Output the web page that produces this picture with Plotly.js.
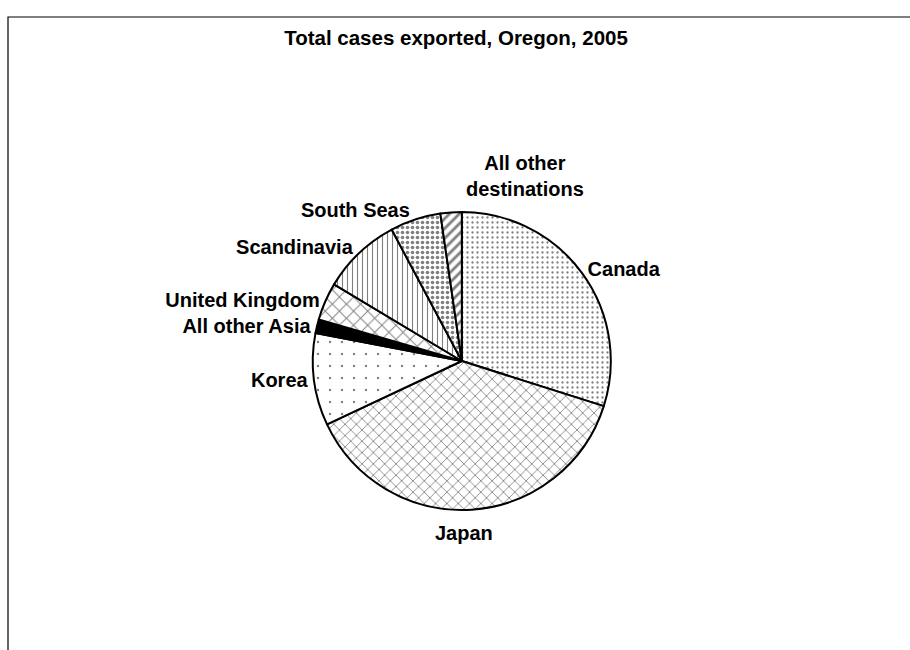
<!DOCTYPE html>
<html>
<head>
<meta charset="utf-8">
<script src="https://cdn.plot.ly/plotly-3.0.1.min.js"></script>
<style>html,body{margin:0;padding:0;background:#fff;}#chart{width:910px;height:650px;}</style>
</head>
<body>
<div id="chart"></div>
<script>
// Data (percent share of total cases)
const destinations = ["Canada", "Japan", "Korea", "All other Asia", "United Kingdom", "Scandinavia", "South Seas", "All other destinations"];
const shares = [29.9, 38.1, 10.0, 1.5, 4.1, 8.6, 5.5, 2.3];
// Slice texts drawn by the pie itself; two labels are set as free notes instead
const sliceTexts = ["Canada", "", "Korea", "All other Asia", "United Kingdom", "Scandinavia", "South Seas", ""];
const noteTexts = ["Japan", "All other<br>destinations"];

const patternShapes = [".", "x", ".", "", "x", "|", ".", "/"];
const patternSizes = [5, 8, 12, 8, 10, 5, 5, 7];
const patternSolidity = [0.17, 0.2, 0.03, 0.3, 0.18, 0.22, 0.4, 0.4];
const sliceColors = ["#ffffff", "#ffffff", "#ffffff", "#000000", "#ffffff", "#ffffff", "#ffffff", "#ffffff"];

const labelFont = {family: "Liberation Sans, Arial, sans-serif", size: 20, color: "#000", weight: "bold"};

const trace = {
  type: "pie",
  labels: destinations,
  values: shares,
  sort: false,
  direction: "clockwise",
  rotation: 0,
  textposition: "outside",
  text: sliceTexts,
  texttemplate: "%{text}",
  hoverinfo: "label+percent",
  outsidetextfont: labelFont,
  marker: {
    colors: sliceColors,
    line: {color: "#000", width: 2},
    pattern: {
      shape: patternShapes,
      size: patternSizes,
      solidity: patternSolidity,
      fgcolor: "#000",
      bgcolor: sliceColors,
      fillmode: "overlay"
    }
  },
  domain: {x: [0.3435, 0.6715], y: [0.2154, 0.6738]},
  showlegend: false
};

const layout = {
  width: 910,
  height: 650,
  margin: {l: 0, r: 0, t: 0, b: 0},
  paper_bgcolor: "#fff",
  plot_bgcolor: "#fff",
  showlegend: false,
  title: {
    text: "Total cases exported, Oregon, 2005",
    font: {family: "Liberation Sans, Arial, sans-serif", size: 20.5, color: "#000", weight: "bold"},
    x: 456/910, xanchor: "center", xref: "paper",
    y: 1 - 38/650, yanchor: "middle", yref: "container"
  },
  annotations: [
    {text: noteTexts[0], xref: "paper", yref: "paper", x: 464/910, y: 1 - 533/650,
     xanchor: "center", yanchor: "middle", showarrow: false, font: labelFont},
    {text: noteTexts[1], xref: "paper", yref: "paper", x: 525/910, y: 1 - 176/650,
     xanchor: "center", yanchor: "middle", showarrow: false, align: "center", font: labelFont}
  ],
  shapes: [
    {type: "rect", xref: "paper", yref: "paper", x0: 8/910, x1: 1.05, y0: -0.05, y1: 1 - 17/650,
     line: {color: "#000", width: 1.2}, fillcolor: "rgba(0,0,0,0)"}
  ]
};

Plotly.newPlot("chart", [trace], layout, {displayModeBar: false, staticPlot: true});
</script>
</body>
</html>
